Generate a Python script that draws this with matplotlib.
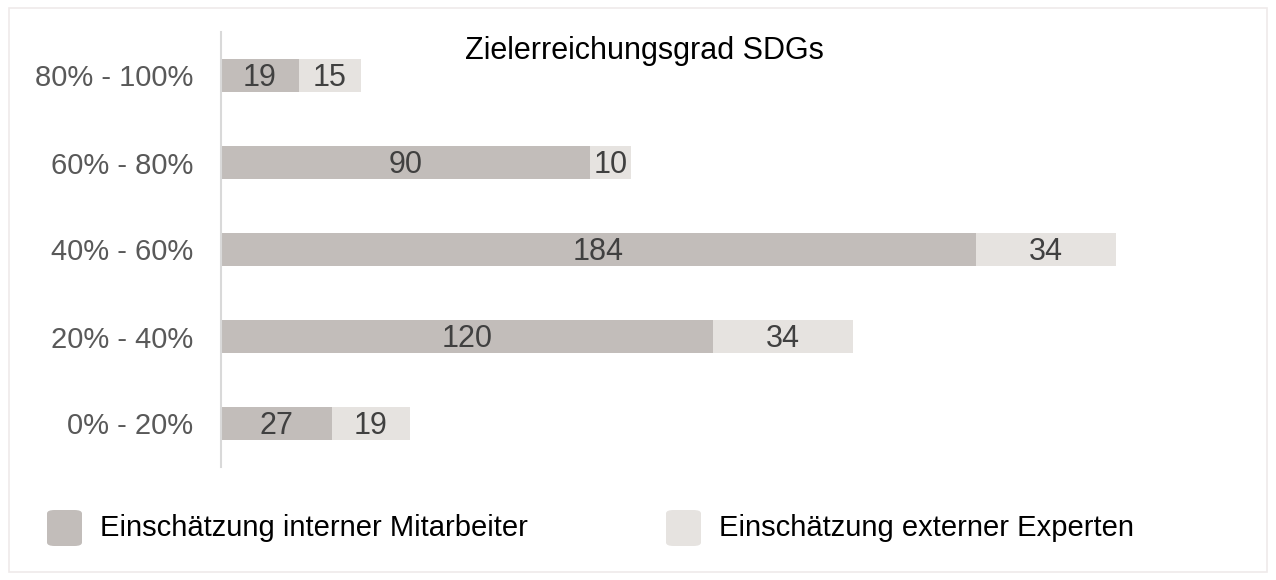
import matplotlib.pyplot as plt
from matplotlib.patches import FancyBboxPatch, Rectangle

plt.rcParams['font.family'] = ['Liberation Sans', 'DejaVu Sans']

categories = ['0% - 20%', '20% - 40%', '40% - 60%', '60% - 80%', '80% - 100%']
intern = [27, 120, 184, 90, 19]
extern = [19, 34, 34, 10, 15]
series_names = ['Einschätzung interner Mitarbeiter', 'Einschätzung externer Experten']
colors = ['#c2bdba', '#e6e3e0']

W, H = 1276, 580
fig = plt.figure(figsize=(W / 100, H / 100), dpi=100)

# outer light frame
fig.patches.append(Rectangle((9 / W, 8 / H), 1 - 18 / W, 1 - 16 / H,
                             transform=fig.transFigure, fill=False,
                             edgecolor='#efeaea', linewidth=1.2))

ax = fig.add_axes([221 / W, 1 - 467 / H, (1247 - 221) / W, (467 - 32) / H])
y = list(range(len(categories)))
b1 = ax.barh(y, intern, height=0.39, color=colors[0], label=series_names[0])
b2 = ax.barh(y, extern, left=intern, height=0.39, color=colors[1], label=series_names[1])

for bars in (b1, b2):
    for rect in bars:
        w = rect.get_width()
        ax.annotate(f"{int(w)}", (rect.get_x() + w / 2, rect.get_y() + rect.get_height() / 2),
                    xytext=(0, -1.5), textcoords='offset points',
                    ha='center', va='center', fontsize=22, color='#404040')

ax.set_xlim(0, 250)
ax.set_ylim(-0.5, len(categories) - 0.5)
ax.set_yticks(y)
ax.set_yticklabels(categories, fontsize=21, color='#595959')
ax.tick_params(axis='y', length=0, pad=20)
ax.set_xticks([])
for s in ['top', 'right', 'bottom']:
    ax.spines[s].set_visible(False)
ax.spines['left'].set_color('#d9d9d9')
ax.spines['left'].set_linewidth(1.5)

fig.text(644 / W, 1 - 51 / H, 'Zielerreichungsgrad SDGs', ha='center', va='center',
         fontsize=22, color='black')

# legend drawn by hand
for xpx, name, c in zip([47, 666], series_names, colors):
    fig.patches.append(FancyBboxPatch((xpx / W, 1 - 546 / H), 35 / W, 36 / H,
                                      boxstyle='round,pad=0,rounding_size=0.006',
                                      transform=fig.transFigure, facecolor=c,
                                      edgecolor='none'))
    fig.text((xpx + 53) / W, 1 - 528 / H, name, ha='left', va='center',
             fontsize=21, color='black')

fig.savefig('out.png', dpi=100)
